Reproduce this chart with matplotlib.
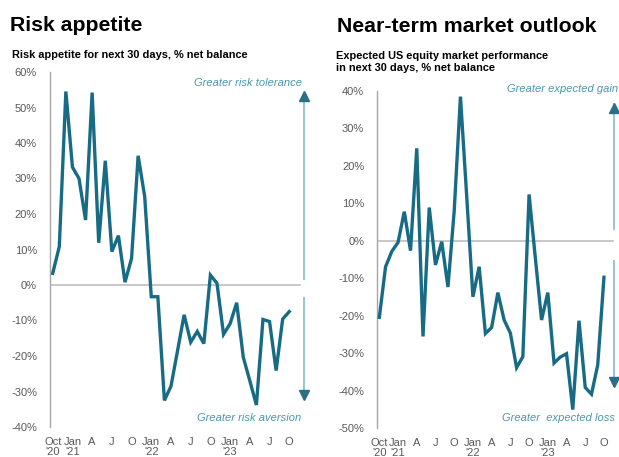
import numpy as np
import matplotlib
matplotlib.use("Agg")
import matplotlib.pyplot as plt

plt.rcParams['font.family'] = ['Liberation Sans', 'DejaVu Sans']

# monthly survey readings, Oct 2020 to Oct 2023
risk_appetite = [3.3, 10.8, 54.5, 33.2, 30.0, 18.3, 54.2, 11.9, 35.0, 9.4,
                 13.9, 0.8, 7.5, 36.4, 24.9, -3.3, -3.3, -32.5, -28.5, -18.5,
                 -8.4, -16.1, -13.1, -16.5, 2.8, 0.5, -13.9, -10.9, -5.0, -20.3,
                 -27.0, -33.8, -9.7, -10.3, -24.1, -9.6, -7.5]
market_outlook = [-20.4, -6.9, -2.8, -0.4, 7.8, -2.6, 24.7, -25.5, 8.9, -6.4,
                  -0.2, -12.3, 8.0, 38.5, 12.0, -14.9, -6.9, -24.7, -23.1, -13.8,
                  -21.1, -24.6, -33.8, -30.9, 12.4, -4.5, -21.1, -13.8, -32.6, -31.0,
                  -30.1, -45.0, -21.3, -39.1, -40.9, -33.1, -9.7]
months = np.arange(len(risk_appetite))

tick_pos = np.arange(0, 37, 3)
tick_labels = ["Oct\n'20", "Jan\n'21", "A", "J", "O", "Jan\n'22", "A", "J", "O",
               "Jan\n'23", "A", "J", "O"]

LINE = '#176b85'
SHAFT = '#8fc0cf'
HEAD = '#2a6f88'
NOTE = '#4a97ae'
GREY_TXT = '#595959'

fig = plt.figure(figsize=(6.19, 4.57), dpi=100)
W, H = 619, 457


def px_axes(x0, x1, ytop, ybot):
    return fig.add_axes([x0 / W, 1 - ybot / H, (x1 - x0) / W, (ybot - ytop) / H])


def style(ax, yticks):
    for s in ['top', 'right', 'bottom']:
        ax.spines[s].set_visible(False)
    ax.spines['left'].set_color('#a6a6a6')
    ax.spines['left'].set_linewidth(1.0)
    ax.set_yticks(yticks)
    ax.set_yticklabels([f'{v}%' for v in yticks])
    ax.set_xticks(tick_pos)
    ax.set_xticklabels(tick_labels, linespacing=1.0)
    ax.tick_params(axis='both', length=0, labelsize=8, colors=GREY_TXT)
    ax.tick_params(axis='y', pad=9)
    ax.tick_params(axis='x', pad=7)


def arrow(ax, x, base, tip, head_len):
    ax.plot([x, x], [base, tip], color=SHAFT, lw=1.3, clip_on=False,
            solid_capstyle='butt')
    marker = '^' if tip > base else 'v'
    mid = tip - head_len / 2 if tip > base else tip + head_len / 2
    ax.plot([x], [mid], marker=marker, color=HEAD, markersize=6.5, clip_on=False)


# left panel: risk appetite
ax1 = px_axes(49.5, 306, 72, 427)
ax1.set_xlim(-0.49, 38.55)
ax1.set_ylim(-40, 60)
style(ax1, list(range(-40, 61, 10)))
ax1.plot([-0.49, 37.6], [0, 0], color='#bfbfbf', lw=1.2, zorder=1)
ax1.plot(months, risk_appetite, color=LINE, lw=2.4, zorder=3,
         solid_joinstyle='miter')
arrow(ax1, 38.25, 1.4, 54.5, 2.8)
arrow(ax1, 38.25, -3.3, -32.4, 2.8)
ax1.text(37.9, 56.8, 'Greater risk tolerance', ha='right', va='center',
         style='italic', fontsize=8.0, color=NOTE)
ax1.text(37.9, -37.5, 'Greater risk aversion', ha='right', va='center',
         style='italic', fontsize=8.0, color=NOTE)

# right panel: near-term market outlook
ax2 = px_axes(376.7, 618, 91, 428.3)
ax2.set_xlim(-0.42, 38.25)
ax2.set_ylim(-50, 40)
style(ax2, list(range(-50, 41, 10)))
ax2.plot([-0.42, 37.5], [0, 0], color='#bfbfbf', lw=1.2, zorder=1)
ax2.plot(months, market_outlook, color=LINE, lw=2.4, zorder=3,
         solid_joinstyle='miter')
arrow(ax2, 37.66, 2.9, 36.7, 2.7)
arrow(ax2, 37.66, -5.1, -38.9, 2.7)
ax2.text(38.2, 40.5, 'Greater expected gain', ha='right', va='center',
         style='italic', fontsize=8.0, color=NOTE, clip_on=False)
ax2.text(37.8, -47.2, 'Greater  expected loss', ha='right', va='center',
         style='italic', fontsize=8.0, color=NOTE, clip_on=False)

# headings
fig.text(10 / W, 1 - 30.7 / H, 'Risk appetite', fontsize=15.3, fontweight='bold',
         va='baseline', ha='left')
fig.text(337 / W, 1 - 31.7 / H, 'Near-term market outlook', fontsize=15.3,
         fontweight='bold', va='baseline', ha='left')
fig.text(11.5 / W, 1 - 58.3 / H, 'Risk appetite for next 30 days, % net balance',
         fontsize=7.95, fontweight='bold', va='baseline', ha='left')
fig.text(336.5 / W, 1 - 58.8 / H, 'Expected US equity market performance',
         fontsize=7.95, fontweight='bold', va='baseline', ha='left')
fig.text(336.5 / W, 1 - 71.3 / H, 'in next 30 days, % net balance',
         fontsize=7.95, fontweight='bold', va='baseline', ha='left')

fig.savefig('out.png', dpi=100)
